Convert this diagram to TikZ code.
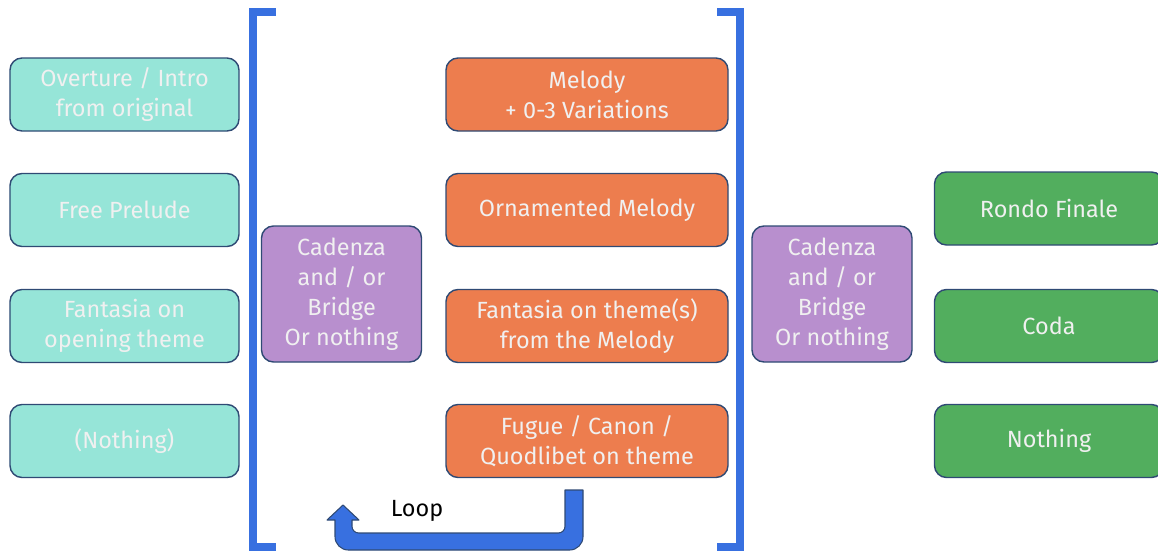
\documentclass[tikz,border=0pt]{standalone}
\usepackage{fontspec}
\setmainfont{Fira Sans}
\usepackage{tikz}
\usetikzlibrary{positioning, calc}

\definecolor{introcol}{HTML}{96E5D8}
\definecolor{melcol}{HTML}{ED7D4E}
\definecolor{cadcol}{HTML}{B88FCE}
\definecolor{fincol}{HTML}{52AE5E}
\definecolor{edgecol}{HTML}{2F4A74}
\definecolor{brackcol}{HTML}{3870E0}

\tikzset{
  part/.style={draw=edgecol, line width=1.2pt, rounded corners=0.36cm, text=white!94!black,
    align=center, inner sep=0pt, font=\fontsize{20}{25.5}\selectfont},
  intro/.style={part, fill=introcol, minimum width=6.87cm, minimum height=2.19cm},
  melody/.style={part, fill=melcol, minimum width=8.46cm, minimum height=2.19cm},
  cadenza/.style={part, fill=cadcol, minimum width=4.8cm, minimum height=4.08cm},
  finale/.style={part, fill=fincol, minimum width=6.87cm, minimum height=2.19cm},
  brack/.style={draw=brackcol, line width=0.24cm},
}

\begin{document}
\begin{tikzpicture}[x=0.03cm, y=-0.03cm]
    \useasboundingbox (0,0) rectangle (1158,554);

    % Intro column
    \node[intro] (i1) at (124.5,94.5) {Overture / Intro\\from original};
    \node[intro] (i2) at (124.5,210) {Free Prelude};
    \node[intro] (i3) at (124.5,326) {Fantasia on\\opening theme};
    \node[intro] (i4) at (124.5,441) {(Nothing)};

    % Brackets
    \draw[brack] (276,12) -- (253,12) -- (253,547) -- (276,547);
    \draw[brack] (717,12) -- (740,12) -- (740,547) -- (717,547);

    \node[cadenza] (c1) at (341.5,294) {Cadenza\\and / or\\Bridge\\Or nothing};

    % Melody column
    \node[melody] (m1) at (587,94.5) {Melody\\+ 0-3 Variations};
    \node[melody] (m2) at (587,210) {Ornamented Melody};
    \node[melody] (m3) at (587,326) {Fantasia on theme(s)\\from the Melody};
    \node[melody] (m4) at (587,441) {Fugue / Canon /\\Quodlibet on theme};

    \node[cadenza] (c2) at (832,294) {Cadenza\\and / or\\Bridge\\Or nothing};

    % Finale column
    \node[finale] (f1) at (1049,208.5) {Rondo Finale};
    \node[finale] (f2) at (1049,326) {Coda};
    \node[finale] (f3) at (1049,441) {Nothing};

    % Loop
    \coordinate (ls) at (574,490);
    \draw[edgecol, line width=0.9pt, fill=brackcol, line join=round]
      (583,490) [rounded corners=0.4cm] -- (583,550) -- (335,550) [sharp corners] -- (335,520)
      -- (327,520) -- (343,505) -- (359,520) -- (352,520) [rounded corners=0.2cm] -- (352,533)
      -- (565,533) [sharp corners] -- (565,490) -- cycle;
    \node[font=\fontsize{20}{22}\selectfont, text=black] (loop) at (417,511) {Loop};
\end{tikzpicture}
\end{document}
